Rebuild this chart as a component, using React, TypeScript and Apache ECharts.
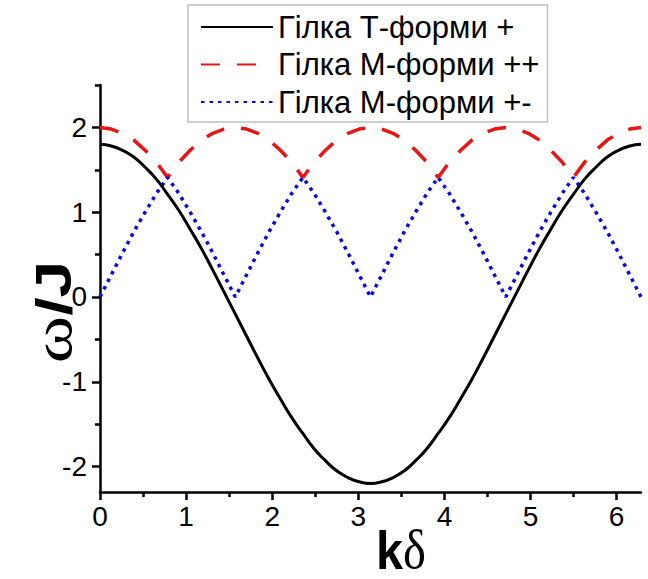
import React, { useEffect, useRef } from "react";
import * as echarts from "echarts";

// kδ sample positions (0 … 2π)
const K = [
  0, 0.1309, 0.2618, 0.3927, 0.5236, 0.6545, 0.7854, 0.9163, 1.0472, 1.1781, 1.309, 1.4399,
  1.5708, 1.7017, 1.8326, 1.9635, 2.0944, 2.2253, 2.3562, 2.4871, 2.618, 2.7489, 2.8798, 3.0107,
  3.1416, 3.2725, 3.4034, 3.5343, 3.6652, 3.7961, 3.927, 4.0579, 4.1888, 4.3197, 4.4506, 4.5815,
  4.7124, 4.8433, 4.9742, 5.1051, 5.236, 5.3669, 5.4978, 5.6287, 5.7596, 5.8905, 6.0214, 6.1523,
  6.2832,
];

const T_PLUS = [
  1.8, 1.78, 1.73, 1.65, 1.53, 1.39, 1.21, 1.02, 0.8, 0.57, 0.32, 0.06,
  -0.2, -0.46, -0.72, -0.97, -1.2, -1.42, -1.61, -1.79, -1.93, -2.05, -2.13, -2.18,
  -2.2, -2.18, -2.13, -2.05, -1.93, -1.79, -1.61, -1.42, -1.2, -0.97, -0.72, -0.46,
  -0.2, 0.06, 0.32, 0.57, 0.8, 1.02, 1.21, 1.39, 1.53, 1.65, 1.73, 1.78,
  1.8,
];

const M_PLUS_PLUS = [
  2.0, 1.98, 1.93, 1.85, 1.73, 1.59, 1.41, 1.59, 1.73, 1.85, 1.93, 1.98,
  2.0, 1.98, 1.93, 1.85, 1.73, 1.59, 1.41, 1.59, 1.73, 1.85, 1.93, 1.98,
  2.0, 1.98, 1.93, 1.85, 1.73, 1.59, 1.41, 1.59, 1.73, 1.85, 1.93, 1.98,
  2.0, 1.98, 1.93, 1.85, 1.73, 1.59, 1.41, 1.59, 1.73, 1.85, 1.93, 1.98,
  2.0,
];

const M_PLUS_MINUS = [
  0, 0.26, 0.52, 0.77, 1.0, 1.22, 1.41, 1.22, 1.0, 0.77, 0.52, 0.26,
  0, 0.26, 0.52, 0.77, 1.0, 1.22, 1.41, 1.22, 1.0, 0.77, 0.52, 0.26,
  0, 0.26, 0.52, 0.77, 1.0, 1.22, 1.41, 1.22, 1.0, 0.77, 0.52, 0.26,
  0, 0.26, 0.52, 0.77, 1.0, 1.22, 1.41, 1.22, 1.0, 0.77, 0.52, 0.26,
  0,
];

const SERIES_NAMES = ["Гілка Т-форми +", "Гілка М-форми ++", "Гілка М-форми +-"];

const X_TICKS = [0, 1, 2, 3, 4, 5, 6];
const X_MINOR = [0.5, 1.5, 2.5, 3.5, 4.5, 5.5];
const Y_TICKS = [-2, -1, 0, 1, 2];
const Y_MINOR = [-1.5, -0.5, 0.5, 1.5, 2.5];

const X_MIN = 0;
const X_MAX = 6.2832;
const Y_MIN = -2.3;
const Y_MAX = 2.5;

const SANS = "'Liberation Sans', Arial, sans-serif";
const SERIF = "'Liberation Serif', 'Times New Roman', serif";

function pairs(ys: number[]) {
  return K.map((k, i) => [k, ys[i]]);
}

export default function App() {
  const ref = useRef<HTMLDivElement>(null);

  useEffect(() => {
    if (!ref.current) return;
    const chart = echarts.init(ref.current, null, { renderer: "svg" });

    const axisLine = { show: true, onZero: false, lineStyle: { color: "#000", width: 2.5 } };

    const option: any = {
      animation: false,
      backgroundColor: "#fff",
      grid: {
        left: 100,
        right: 7,
        top: 85,
        bottom: 87,
        containLabel: false,
        outerBoundsMode: "none",
      },
      legend: {
        data: SERIES_NAMES,
        orient: "vertical",
        left: 188,
        top: 5,
        padding: [5.5, 8, 3.5, 12],
        borderColor: "#c0c0c0",
        borderWidth: 1.5,
        backgroundColor: "rgba(255,255,255,0)",
        itemWidth: 72,
        itemHeight: 14,
        itemGap: 4.5,
        selectedMode: false,
        itemStyle: { opacity: 0 },
        textStyle: {
          fontFamily: SANS,
          fontSize: 31,
          color: "#000",
          lineHeight: 33,
        },
      },
      xAxis: [
        {
          type: "value",
          min: X_MIN,
          max: X_MAX,
          axisLine,
          splitLine: { show: false },
          axisTick: {
            show: true,
            inside: false,
            length: 8,
            customValues: X_TICKS,
            lineStyle: { color: "#000", width: 2.5 },
          },
          axisLabel: {
            customValues: X_TICKS,
            margin: 10,
            fontFamily: SANS,
            fontSize: 28,
            color: "#000",
          },
        },
        {
          type: "value",
          min: X_MIN,
          max: X_MAX,
          position: "bottom",
          axisLine: { show: false, onZero: false },
          splitLine: { show: false },
          axisTick: {
            show: true,
            length: 5,
            customValues: X_MINOR,
            lineStyle: { color: "#000", width: 2.5 },
          },
          axisLabel: { show: false },
        },
      ],
      yAxis: [
        {
          type: "value",
          min: Y_MIN,
          max: Y_MAX,
          axisLine,
          splitLine: { show: false },
          axisTick: {
            show: true,
            length: 8,
            customValues: Y_TICKS,
            lineStyle: { color: "#000", width: 2.5 },
          },
          axisLabel: {
            customValues: Y_TICKS,
            margin: 13,
            fontFamily: SANS,
            fontSize: 28,
            color: "#000",
          },
        },
        {
          type: "value",
          min: Y_MIN,
          max: Y_MAX,
          position: "left",
          axisLine: { show: false, onZero: false },
          splitLine: { show: false },
          axisTick: {
            show: true,
            length: 5,
            customValues: Y_MINOR,
            lineStyle: { color: "#000", width: 2.5 },
          },
          axisLabel: { show: false },
        },
      ],
      series: [
        {
          name: SERIES_NAMES[0],
          type: "line",
          data: pairs(T_PLUS),
          symbol: "none",
          showSymbol: false,
          smooth: true,
          lineStyle: { color: "#000", width: 3 },
          itemStyle: { color: "#000" },
          z: 3,
        },
        {
          name: SERIES_NAMES[1],
          type: "line",
          data: pairs(M_PLUS_PLUS),
          symbol: "none",
          showSymbol: false,
          smooth: false,
          lineStyle: { color: "#e81515", width: 3.5, type: [19, 17] },
          itemStyle: { color: "#e81515" },
          z: 2,
        },
        {
          name: SERIES_NAMES[2],
          type: "line",
          data: pairs(M_PLUS_MINUS),
          symbol: "none",
          showSymbol: false,
          smooth: false,
          lineStyle: { color: "#0a0adc", width: 3.5, type: [3.5, 5] },
          itemStyle: { color: "#0a0adc" },
          z: 2,
        },
      ],
      graphic: [
        {
          type: "text",
          x: 53,
          y: 312,
          rotation: Math.PI / 2,
          scaleY: 0.76,
          style: {
            text: "{a|ω}{b|/J}",
            align: "center",
            verticalAlign: "middle",
            rich: {
              a: { fontFamily: SERIF, fontSize: 72, fill: "#000", fontWeight: "normal" },
              b: { fontFamily: SANS, fontSize: 66, fill: "#000", fontWeight: "bold" },
            },
          },
        },
        {
          type: "text",
          x: 401,
          y: 550,
          scaleX: 0.9,
          style: {
            text: "{a|k}{b|δ}",
            align: "center",
            verticalAlign: "middle",
            rich: {
              a: { fontFamily: SANS, fontSize: 54, fill: "#000", fontWeight: "bold" },
              b: { fontFamily: SERIF, fontSize: 54, fill: "#000", fontWeight: "normal" },
            },
          },
        },
      ],
    };

    chart.setOption(option);
    return () => chart.dispose();
  }, []);

  return (
    <div
      ref={ref}
      style={{ position: "fixed", left: 0, top: 0, width: 648, height: 579 }}
    />
  );
}
